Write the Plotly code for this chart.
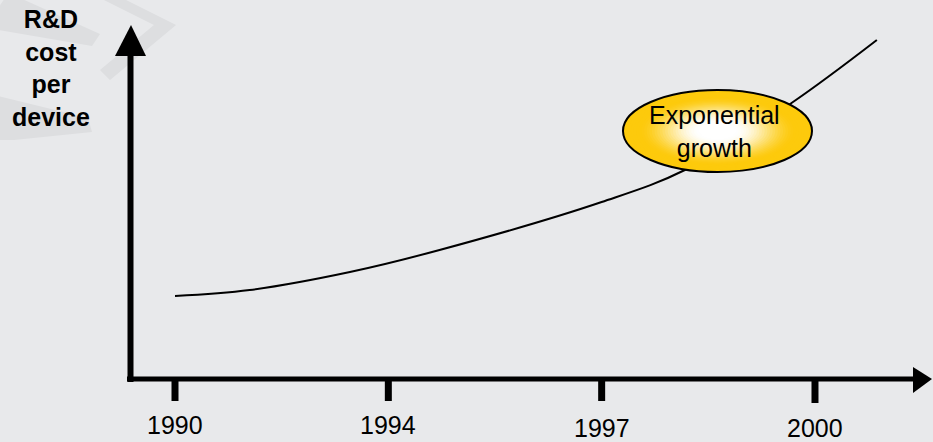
import plotly.graph_objects as go

# ---- data ----
years = ["1990", "1994", "1997", "2000"]
tick_pos = [0, 1, 2, 3]
curve_x = [0.0, 0.35, 0.82, 1.24, 2.0, 2.39, 2.89, 3.29]
curve_y = [83, 89, 107, 129, 177, 209, 276, 339]
y_title = ["R&D", "cost", "per", "device"]
bubble_text = ["Exponential", "growth"]

# ---- layout helpers ----
W, H = 933, 442
BG = "#e8e9eb"
FONT = "Liberation Sans, Arial, sans-serif"

def px(x):
    return x / W

def py(y):
    return 1 - y / H

fig = go.Figure()
fig.add_trace(go.Scatter(x=curve_x, y=curve_y, mode="lines",
                         line=dict(color="black", width=2, shape="spline", smoothing=1.0),
                         hoverinfo="skip", showlegend=False))

shapes = []
# watermark chevrons (faint)
wm = "#dddee0"
wm_paths = [
    [(100, -2), (122, -2), (176, 25), (110, 80), (100, 70), (154, 25)],
    [(-2, 8), (-2, 30), (92, 46), (100, 34), (20, -2), (5, -2)],
    [(-2, 96), (-2, 140), (14, 140), (92, 132), (88, 118)],
]
for pts in wm_paths:
    d = "M " + " L ".join(f"{px(a)} {py(b)}" for a, b in pts) + " Z"
    shapes.append(dict(type="path", xref="paper", yref="paper", path=d,
                       fillcolor=wm, line=dict(width=0), layer="below"))

# axes
shapes.append(dict(type="line", xref="paper", yref="paper", x0=px(130.5), x1=px(130.5),
                   y0=py(382), y1=py(50), line=dict(color="black", width=6)))
shapes.append(dict(type="line", xref="paper", yref="paper", x0=px(127), x1=px(918),
                   y0=py(379), y1=py(379), line=dict(color="black", width=5)))
# arrowheads
shapes.append(dict(type="path", xref="paper", yref="paper",
                   path=f"M {px(131)} {py(25)} L {px(146)} {py(56)} L {px(115)} {py(56)} Z",
                   fillcolor="black", line=dict(width=0)))
shapes.append(dict(type="path", xref="paper", yref="paper",
                   path=f"M {px(932)} {py(379)} L {px(913)} {py(367)} L {px(913)} {py(393)} Z",
                   fillcolor="black", line=dict(width=0)))
# ticks
tick_len = [24, 24, 24, 26]
for i, t in enumerate(tick_pos):
    shapes.append(dict(type="line", xref="x", yref="paper", x0=t, x1=t,
                       y0=py(377), y1=py(377 + tick_len[i]), line=dict(color="black", width=7)))

# gradient ellipse
cx, cy, rx, ry = 717.5, 131, 94.5, 41
gold = (253, 202, 12)
white = (255, 255, 255)
N = 36
for k in range(N):
    r = 1 - k / N
    f = min(1.0, max(0.0, (r - 0.2) / 0.65))
    f = f * f * (3 - 2 * f)
    col = tuple(int(white[j] + (gold[j] - white[j]) * f) for j in range(3))
    shapes.append(dict(type="circle", xref="paper", yref="paper",
                       x0=px(cx - rx * r), x1=px(cx + rx * r),
                       y0=py(cy - ry * r), y1=py(cy + ry * r),
                       fillcolor="rgb(%d,%d,%d)" % col, line=dict(width=0), layer="above"))
shapes.append(dict(type="circle", xref="paper", yref="paper",
                   x0=px(cx - rx), x1=px(cx + rx), y0=py(cy - ry), y1=py(cy + ry),
                   line=dict(color="black", width=2), layer="above"))

annotations = []
label_dy = [0, 0, 3, 3]
for i, (t, lab) in enumerate(zip(tick_pos, years)):
    annotations.append(dict(x=t, y=py(425 + label_dy[i]), xref="x", yref="paper",
                            text=lab, showarrow=False, xanchor="center", yanchor="middle",
                            font=dict(family=FONT, size=25, color="black")))
annotations.append(dict(x=px(51), y=py(68), xref="paper", yref="paper",
                        text="<br>".join(f"<b>{s}</b>" for s in y_title), showarrow=False,
                        align="center", xanchor="center", yanchor="middle",
                        font=dict(family=FONT, size=25, color="black")))
annotations.append(dict(x=px(714), y=py(131), xref="paper", yref="paper",
                        text="<br>".join(bubble_text), showarrow=False,
                        align="center", xanchor="center", yanchor="middle",
                        font=dict(family=FONT, size=25, color="black")))

fig.update_layout(
    width=W, height=H, margin=dict(l=0, r=0, t=0, b=0),
    paper_bgcolor=BG, plot_bgcolor=BG,
    xaxis=dict(range=[(0 - 175) / 213.33, (W - 175) / 213.33], visible=False, fixedrange=True),
    yaxis=dict(range=[379 - H, 379], visible=False, fixedrange=True),
    shapes=shapes, annotations=annotations, showlegend=False,
)
fig.write_html("out.html")
